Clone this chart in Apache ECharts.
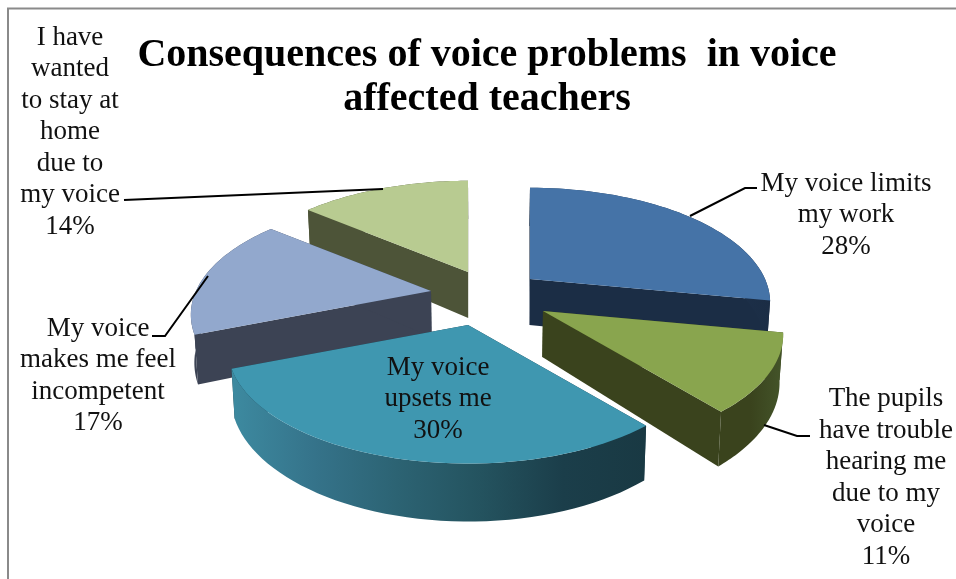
<!DOCTYPE html>
<html>
<head>
<meta charset="utf-8">
<style>html,body{margin:0;padding:0;background:#fff}#c{width:956px;height:579px}</style>
<script src="https://cdn.jsdelivr.net/npm/echarts@6/dist/echarts.min.js"></script>
</head>
<body>
<div id="c"></div>
<script>
var titleText = 'Consequences of voice problems  in voice\naffected teachers';
var categories = [
  'My voice limits\nmy work',
  'The pupils\nhave trouble\nhearing me\ndue to my\nvoice',
  'My voice\nupsets me',
  'My voice\nmakes me feel\nincompetent',
  'I have\nwanted\nto stay at\nhome\ndue to\nmy voice'
];
var values = [28, 11, 30, 17, 14];

// Styles
var topColors = ['#4573a7', '#89a54e', '#3f97b0', '#92a8cd', '#b8cb91'];
var cutColors = ['#1b2d45', '#3a431d', '#1a3b47', '#3c4354', '#4d5438'];
var rimStops = [
  ['#27405f', '#1b2d45'],
  ['#3a431d', '#3a431d', '#44552a'],
  ['#3d8aa0', '#35738a', '#2c6373', '#24535f', '#1b3e4a', '#193943'],
  ['#3c4354', '#3c4354'],
  ['#4d5438', '#4d5438']
];
// Layout
var center = [483, 297], rx = 235, ry = 110, persp = 4.85, depth = 46, taper = 0.988;
var explode = [[47, -18], [60, 14], [-15, 28], [-52, -6], [-15, -25]];
var labelPos = [[846, 215], [886, 478], [438, 399], [98, 376], [70, 132]];
var leaders = [
  [[690, 216], [745, 188], [757, 188]],
  [[764, 425], [797, 436], [810, 436]],
  null,
  [[208, 276], [165, 336], [152, 336]],
  [[124, 200], [383, 189]]
];
var font = '27px "Liberation Serif", serif';

var total = values.reduce(function (a, b) { return a + b; }, 0);
var angles = [0];
values.forEach(function (v, i) { angles.push(angles[i] + v / total * 2 * Math.PI); });

function project(a, off, r, low) {
  var c = Math.cos(a) * r, sn = Math.sin(a) * r, s = persp / (persp + c);
  var x = sn * rx * s + off[0], y = -c * ry * s + off[1];
  if (low) { y += depth * s; x *= taper; }
  return [center[0] + x, center[1] + y];
}

function renderSlice(params, api) {
  var i = params.dataIndex, a0 = angles[i], a1 = angles[i + 1], off = explode[i];
  var mid = (a0 + a1) / 2, order = Math.round((1 - Math.cos(mid)) * 10);
  var n = 48, topArc = [], lowArc = [];
  for (var k = 0; k <= n; k++) {
    var a = a0 + (a1 - a0) * k / n;
    topArc.push(project(a, off, 1, false));
    lowArc.push(project(a, off, 1, true));
  }
  var apex = project(0, off, 0, false), apexLow = project(0, off, 0, true);
  var stops = rimStops[i].map(function (col, j, arr) {
    return { offset: j / (arr.length - 1), color: col };
  });
  var children = [
    { type: 'polygon', z2: order, shape: { points: [apex, topArc[0], lowArc[0], apexLow] }, style: { fill: cutColors[i] } },
    { type: 'polygon', z2: order + 1, shape: { points: [apex, topArc[n], lowArc[n], apexLow] }, style: { fill: cutColors[i] } },
    { type: 'polygon', z2: order + 2, shape: { points: topArc.concat(lowArc.slice().reverse()) },
      style: { fill: { type: 'linear', x: 0, y: 0, x2: 1, y2: 0, colorStops: stops } } },
    { type: 'polygon', z2: order + 3, shape: { points: [apex].concat(topArc) }, style: { fill: topColors[i] } },
    { type: 'text', z2: 100, style: {
        text: categories[i] + '\n' + api.value(0) + '%',
        x: labelPos[i][0], y: labelPos[i][1], align: 'center', verticalAlign: 'middle',
        font: font, lineHeight: 31.5, fill: '#111' } }
  ];
  if (leaders[i]) {
    children.push({ type: 'polyline', z2: 90, shape: { points: leaders[i] },
      style: { stroke: '#000', lineWidth: 2, fill: null } });
  }
  return { type: 'group', children: children };
}

var chart = echarts.init(document.getElementById('c'), null, { renderer: 'canvas' });
chart.setOption({
  animation: false,
  backgroundColor: '#fff',
  title: {
    text: titleText, left: 482, top: 29, textAlign: 'center',
    textStyle: { fontFamily: '"Liberation Serif", serif', fontWeight: 'bold', fontSize: 40, lineHeight: 44, color: '#000' }
  },
  graphic: [
    { type: 'polyline', silent: true, shape: { points: [[8, 579], [8, 8.5], [956, 8.5]] },
      style: { stroke: '#8a8a8a', lineWidth: 2, fill: null } }
  ],
  series: [{
    type: 'custom',
    coordinateSystem: 'none',
    silent: true,
    clip: false,
    renderItem: renderSlice,
    data: values.map(function (v, i) { return { name: categories[i], value: [v] }; })
  }]
});
</script>
</body>
</html>
